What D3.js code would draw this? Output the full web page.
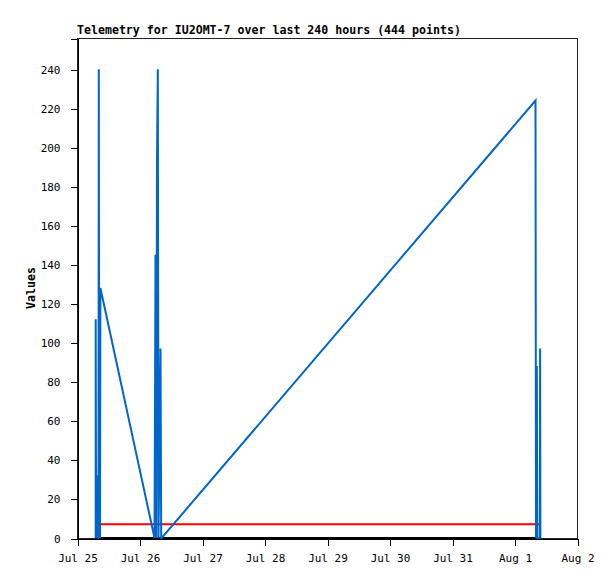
<!DOCTYPE html>
<html>
<head>
<meta charset="utf-8">
<script src="https://cdn.jsdelivr.net/npm/d3@7"></script>
<style>
  body { margin: 0; background: #fff; }
  text { font-family: "DejaVu Sans Mono", monospace; }
</style>
</head>
<body>
<div id="chart"></div>
<script>
// telemetry series
const blueTimes = [
    '2025-07-25 07:11', '2025-07-25 07:11', '2025-07-25 07:20', '2025-07-25 07:25', '2025-07-25 07:31',
    '2025-07-25 07:36', '2025-07-25 07:42', '2025-07-25 07:50', '2025-07-25 07:56', '2025-07-25 08:04',
    '2025-07-25 08:10', '2025-07-25 08:15', '2025-07-25 08:22', '2025-07-25 08:34', '2025-07-25 08:45',
    '2025-07-25 08:50', '2025-07-25 08:59', '2025-07-26 05:46', '2025-07-26 06:09', '2025-07-26 06:25',
    '2025-07-26 06:43', '2025-07-26 07:02', '2025-07-26 07:18', '2025-07-26 08:04', '2025-07-26 08:20',
    '2025-07-26 08:31', '2025-08-01 08:04', '2025-08-01 08:15', '2025-08-01 08:34', '2025-08-01 08:45',
    '2025-08-01 09:43', '2025-08-01 09:50', '2025-08-01 09:57'
];
const blueValues = [
    0, 112, 0, 32, 0,
    32, 0, 32, 0, 32,
    0, 0, 240, 0, 96,
    0, 128, 0, 145, 0,
    193, 240, 0, 97, 0,
    0, 224, 0, 88, 0,
    0, 97, 0
];
const redTimes = ['2025-07-25 07:11', '2025-08-01 09:57'];
const redValues = [7, 7];
const blackTimes = ['2025-07-25 07:11', '2025-08-01 09:57'];
const blackValues = [0, 0];

const yTicks = [0, 20, 40, 60, 80, 100, 120, 140, 160, 180, 200, 220, 240];
const xDomain = ['2025-07-25 00:00', '2025-08-02 00:00'];
const yMax = 256;

const title = 'Telemetry for IU2OMT-7 over last 240 hours (444 points)';
const yLabel = 'Values';

const parse = d3.timeParse('%Y-%m-%d %H:%M');
const toPoints = (times, values) => times.map((t, i) => ({ t: parse(t), v: values[i] }));

const width = 615, height = 579;
const margin = { top: 38, right: 38, bottom: 41, left: 77 };

const svg = d3.select('#chart').append('svg')
    .attr('width', width)
    .attr('height', height);

const x = d3.scaleTime()
    .domain(xDomain.map(parse))
    .range([margin.left, width - margin.right]);

const y = d3.scaleLinear()
    .domain([0, yMax])
    .range([height - margin.bottom, margin.top]);

const line = d3.line()
    .x(d => x(d.t))
    .y(d => y(d.v));

// frame
svg.append('rect')
    .attr('x', margin.left + 0.5)
    .attr('y', margin.top + 0.5)
    .attr('width', width - margin.left - margin.right)
    .attr('height', height - margin.top - margin.bottom)
    .attr('fill', 'none')
    .attr('stroke', '#222')
    .attr('shape-rendering', 'crispEdges');

// axes
const xAxis = svg.append('g')
    .attr('transform', `translate(0.5, ${height - margin.bottom + 0.5})`)
    .call(d3.axisBottom(x)
        .ticks(d3.timeDay.every(1))
        .tickFormat(d3.timeFormat('%b %-d'))
        .tickSize(7)
        .tickPadding(9));

const yAxis = svg.append('g')
    .attr('transform', `translate(${margin.left + 0.5}, 0.5)`)
    .call(d3.axisLeft(y)
        .tickValues(yTicks)
        .tickSize(7)
        .tickPadding(10));

[xAxis, yAxis].forEach(g => {
    g.select('.domain').attr('stroke', '#000').attr('shape-rendering', 'crispEdges');
    g.selectAll('.tick line').attr('stroke', '#000').attr('shape-rendering', 'crispEdges');
    g.selectAll('.tick text')
        .attr('fill', '#000')
        .style('font-family', '"DejaVu Sans Mono", monospace')
        .style('font-size', '11px');
});

// series
svg.append('path')
    .datum(toPoints(blackTimes, blackValues))
    .attr('d', line)
    .attr('fill', 'none')
    .attr('stroke', '#000')
    .attr('stroke-width', 2);

svg.append('path')
    .datum(toPoints(redTimes, redValues))
    .attr('d', line)
    .attr('fill', 'none')
    .attr('stroke', '#ff0000')
    .attr('stroke-width', 2);

svg.append('path')
    .datum(toPoints(blueTimes, blueValues))
    .attr('d', line)
    .attr('fill', 'none')
    .attr('stroke', '#0066cc')
    .attr('stroke-width', 2)
    .attr('stroke-linejoin', 'miter');

// texts
svg.append('text')
    .attr('x', margin.left)
    .attr('y', 34)
    .style('font-size', '11.6px')
    .style('font-weight', 'bold')
    .text(title);

svg.append('text')
    .attr('transform', `translate(35, ${(margin.top + height - margin.bottom) / 2}) rotate(-90)`)
    .attr('text-anchor', 'middle')
    .style('font-size', '11.6px')
    .style('font-weight', 'bold')
    .text(yLabel);
</script>
</body>
</html>
